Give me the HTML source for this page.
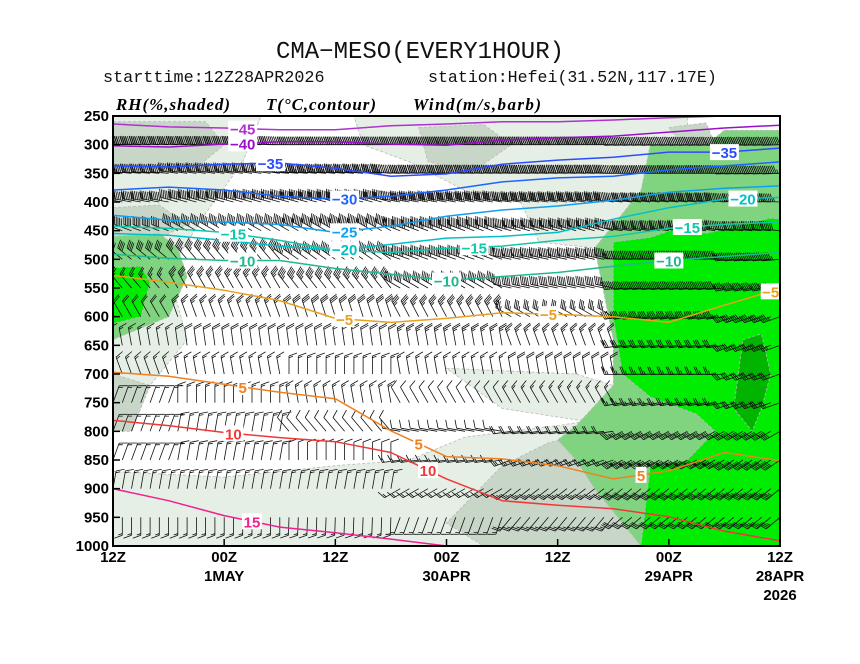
<!DOCTYPE html>
<html><head><meta charset="utf-8">
<style>
html,body{margin:0;padding:0;background:#fff;width:860px;height:664px;overflow:hidden}
svg{display:block}
.ax{font-family:"Liberation Sans",sans-serif;font-weight:bold;font-size:15px;fill:#000}
.ttl{font-family:"Liberation Mono",monospace;fill:#111}
.leg{font-family:"Liberation Serif",serif;font-weight:bold;font-style:italic;font-size:17px;fill:#000}
.cl{font-family:"Liberation Sans",sans-serif;font-weight:bold;font-size:15px}
</style></head><body>
<svg id="chart" width="860" height="664" viewBox="0 0 860 664" xmlns="http://www.w3.org/2000/svg">
<text class="ttl" x="420" y="58" font-size="24" text-anchor="middle">CMA−MESO(EVERY1HOUR)</text>
<text class="ttl" x="103" y="82" font-size="16.8">starttime:12Z28APR2026</text>
<text class="ttl" x="428" y="82" font-size="16.6">station:Hefei(31.52N,117.17E)</text>
<text class="leg" x="116" y="110" textLength="114">RH(%,shaded)</text>
<text class="leg" x="266" y="110" textLength="110">T(°C,contour)</text>
<text class="leg" x="413" y="110" textLength="128">Wind(m/s,barb)</text>
<defs><clipPath id="pc"><rect x="113" y="116" width="667" height="430"/></clipPath></defs>
<g id="shade" clip-path="url(#pc)"></g>
<g id="barbs" clip-path="url(#pc)"></g>
<g id="temps" clip-path="url(#pc)"></g>
<g id="labels"></g>
<rect x="113" y="116" width="667" height="430" fill="none" stroke="#000" stroke-width="2"/>
<g id="axes"></g>
</svg>
<script>
// ---- data ----
const levels=[250,300,350,400,450,500,550,600,650,700,750,800,850,900,950,1000];
const tempHours=[72,66,60,54,48,42,36,30,24,18,12,6,0];
const isoValues=[-45,-40,-35,-30,-25,-20,-15,-10,-5,5,10,15];
const isoM45=[264,269,271,274,274,267,264,260,260,257,253,250,248];
const isoM40=[302,304,299,295,295,299,301,292,288,285,278,271,266];
const isoM35=[337,339,334,332,341,355,351,334,327,322,313,313,306];
const isoM30=[379,374,379,390,395,390,379,365,358,355,344,337,330];
const isoM25=[423,432,435,439,453,442,425,414,407,397,383,376,372];
const isoM20=[455,458,467,477,484,474,463,460,453,430,410,395,392];
const isoM15=[442,446,453,467,484,488,481,477,467,460,446,439,435];
const isoM10=[491,498,502,502,516,526,537,530,523,512,502,495,488];
const isoM5=[528,540,554,572,603,610,603,593,596,600,610,580,551];
const isoP5=[697,704,718,732,743,799,844,848,860,883,869,837,851];
const isoP10=[781,790,802,811,818,837,883,921,929,935,949,974,991];
const isoP15=[900,921,947,967,977,988,1000,1009,1005,1005,1009,1012,1012];
const isoColors=['#b030d0','#9a10c8','#2a4cff','#1e64ff','#10a0f0','#00c0c8','#10c8a8','#20b890','#e8a020','#f08020','#f03838','#f02090'];
const isoLabelHours=[[58],[58],[55,6],[47],[47],[47,4],[59,33,10],[58,36,12],[47,25,1],[58,39,15],[59,38],[57]];
const windHours=[72,60,48,36,24,12,0];
const windDir=[[270,270,270,270,270,268,268],[272,272,270,270,270,268,268],[275,278,275,272,272,270,268],[280,285,285,280,278,275,272],[290,300,300,290,285,278,275],[310,320,305,290,282,272,265],[320,330,322,300,282,265,260],[330,340,342,332,300,262,250],[350,352,352,350,340,262,250],[340,350,0,350,350,268,250],[20,0,350,330,330,260,250],[20,10,320,280,262,242,240],[20,10,0,262,250,240,235],[10,10,10,240,232,230,230],[180,180,182,200,220,230,230],[170,170,180,190,200,210,220]];
const windSpd=[[40,40,45,50,50,50,50],[35,35,40,45,45,45,45],[30,30,38,40,40,40,38],[28,28,32,35,35,35,30],[20,22,28,30,30,30,28],[15,18,22,25,25,25,25],[10,14,18,20,20,22,22],[8,10,12,14,14,18,18],[6,8,8,10,10,12,14],[6,6,6,6,8,10,12],[6,6,6,4,6,10,12],[6,6,4,4,8,14,16],[6,6,4,6,10,18,20],[6,6,6,6,10,16,18],[6,6,6,6,10,12,14],[4,4,4,4,6,8,10]];
// RH regions in (hour, hPa)
const rhVeryLight=[[[72,250],[56,250],[58,330],[62,420],[66,520],[64,640],[70,760],[72,760]],[[72,870],[60,880],[48,860],[40,850],[34,810],[24,790],[16,770],[16,1000],[72,1000]],[[46,250],[10,250],[10,470],[20,480],[26,470],[28,400],[34,380],[40,330],[45,300]],[[36,690],[22,700],[14,740],[18,790],[30,760]]];
const rhLight=[[[72,260],[62,260],[60,300],[63,340],[72,345]],[[72,410],[67,405],[64,440],[68,470],[72,470]],[[39,270],[32,265],[29,300],[33,345],[38,330]],[[30,860],[25,820],[20,800],[12,810],[12,1000],[32,1000],[36,960]],[[72,700],[68,720],[70,800],[72,800]],[[12,270],[8,262],[7,300],[10,310]]];
const rhMedium=[[[14,300],[8,300],[6,275],[0,275],[0,1000],[15,1000],[18,940],[20,900],[22,850],[24,815],[22,790],[18,720],[18,640],[19,560],[20,480],[17,420],[15,380]],[[72,460],[67,455],[65,480],[64,530],[66,600],[72,640]]];
const rhBright=[[[18,470],[14,462],[11,445],[8,455],[4,440],[1,428],[0,430],[0,1000],[15,1000],[14,860],[10,850],[7,800],[9,770],[14,740],[17,700],[18,600]],[[72,515],[69,512],[68,540],[69,600],[72,612]]];
const rhDark=[[[4,640],[2,630],[1,700],[2,760],[3,800],[5,760]]];
const xTickHours=[72,60,48,36,24,12,0];
const xTickL1=['12Z','00Z','12Z','00Z','12Z','00Z','12Z'];
const xTickL2=['','1MAY','','30APR','','29APR','28APR'];
const xTickL3=['','','','','','','2026'];

// ---- axes ----
const X0=113,X1=780,Y0=116,Y1=546;
const xs=h=>X1-(h/72)*(X1-X0);
const ys=p=>Y0+(p-250)/750*(Y1-Y0);
const NS='http://www.w3.org/2000/svg';
function mk(tag,attrs,parent){const e=document.createElementNS(NS,tag);for(const k in attrs)e.setAttribute(k,attrs[k]);parent.appendChild(e);return e;}
const shade=document.getElementById('shade'),barbs=document.getElementById('barbs'),temps=document.getElementById('temps'),labels=document.getElementById('labels'),axes=document.getElementById('axes');

function polys(set,fill,name){set.forEach(pg=>{const e=mk('polygon',{points:pg.map(q=>xs(q[0]).toFixed(1)+','+ys(q[1]).toFixed(1)).join(' '),fill:fill,stroke:'#b8b8b8','stroke-width':0.8,'stroke-dasharray':'3,2'},shade);

});}
polys(rhVeryLight,'#e6efe6','rh-region-30');
polys(rhLight,'#c8d6c8','rh-region-50');
polys(rhMedium,'#80d480','rh-region-70');
polys(rhBright,'#00ec00','rh-region-90');
polys(rhDark,'#00b400','rh-region-95');

// wind barbs
function nearestIdx(h){let bi=0,bd=1e9;windHours.forEach((w,i)=>{const d=Math.abs(w-h);if(d<bd){bd=d;bi=i;}});return bi;}
let pathD='';
levels.forEach((p,li)=>{
  for(let h=72;h>=0;h--){
    const k=nearestIdx(h);const d=windDir[li][k]*Math.PI/180,s=windSpd[li][k];
    const bx=xs(h),by=ys(p);const L=18;
    const ux=Math.sin(d),uy=-Math.cos(d);
    const px=-uy,py=ux;
    const tx=bx+ux*L,ty=by+uy*L;
    pathD+=`M${bx.toFixed(1)} ${by.toFixed(1)}L${tx.toFixed(1)} ${ty.toFixed(1)}`;
    let rem=Math.round(s/2)*2,pos=0;
    while(rem>=4){const ax=tx-ux*pos,ay=ty-uy*pos;
      pathD+=`M${ax.toFixed(1)} ${ay.toFixed(1)}L${(ax+px*8+ux*3).toFixed(1)} ${(ay+py*8+uy*3).toFixed(1)}`;pos+=1.8;rem-=4;}
    if(rem>=2){const ax=tx-ux*pos,ay=ty-uy*pos;
      pathD+=`M${ax.toFixed(1)} ${ay.toFixed(1)}L${(ax+px*4+ux*1.5).toFixed(1)} ${(ay+py*4+uy*1.5).toFixed(1)}`;}
  }
});
const bp=mk('path',{d:pathD,stroke:'#111',fill:'none','stroke-width':0.8},barbs);



// temperature contours
const isoSeries=[isoM45,isoM40,isoM35,isoM30,isoM25,isoM20,isoM15,isoM10,isoM5,isoP5,isoP10,isoP15];
function pAt(ser,h){for(let i=0;i<tempHours.length-1;i++){const a=tempHours[i],b=tempHours[i+1];if(h<=a&&h>=b){const t=(a-h)/(a-b);return ser[i]+(ser[i+1]-ser[i])*t;}}return ser[ser.length-1];}
isoSeries.forEach((ser,i)=>{
  const d=ser.map((p,j)=>(j?'L':'M')+xs(tempHours[j]).toFixed(1)+' '+ys(p).toFixed(1)).join('');
  const e=mk('path',{d:d,stroke:isoColors[i],fill:'none','stroke-width':1.5,'stroke-linejoin':'round'},temps);
  
  
  isoLabelHours[i].forEach(h=>{
    const x=xs(h),y=ys(pAt(ser,h));
    const txt=String(isoValues[i]).replace('-','−');
    const w=txt.length*9+2;
    const r=mk('rect',{x:x-w/2,y:y-8,width:w,height:16,fill:'#fff'},labels);
    
    
    const t=mk('text',{x:x,y:y+6,'text-anchor':'middle',class:'cl',fill:isoColors[i]},labels);
    t.textContent=txt;
    
    
  });
});

// axes
levels.forEach(p=>{
  const y=ys(p);
  const tk=mk('line',{x1:X0,x2:X0+7,y1:y,y2:y,stroke:'#000','stroke-width':1.5},axes);
  
  
  const t=mk('text',{x:X0-4,y:y+5,'text-anchor':'end',class:'ax'},axes);
  t.textContent=p;
  
  
});
xTickHours.forEach((h,i)=>{
  const x=xs(h);
  const tk=mk('line',{x1:x,x2:x,y1:Y1,y2:Y1-7,stroke:'#000','stroke-width':1.5},axes);
  
  
  [xTickL1[i],xTickL2[i],xTickL3[i]].forEach((s,j)=>{if(!s)return;
    const t=mk('text',{x:x,y:Y1+16+j*19,'text-anchor':'middle',class:'ax'},axes);
    t.textContent=s;
    
    
  });
});
</script>
</body></html>
